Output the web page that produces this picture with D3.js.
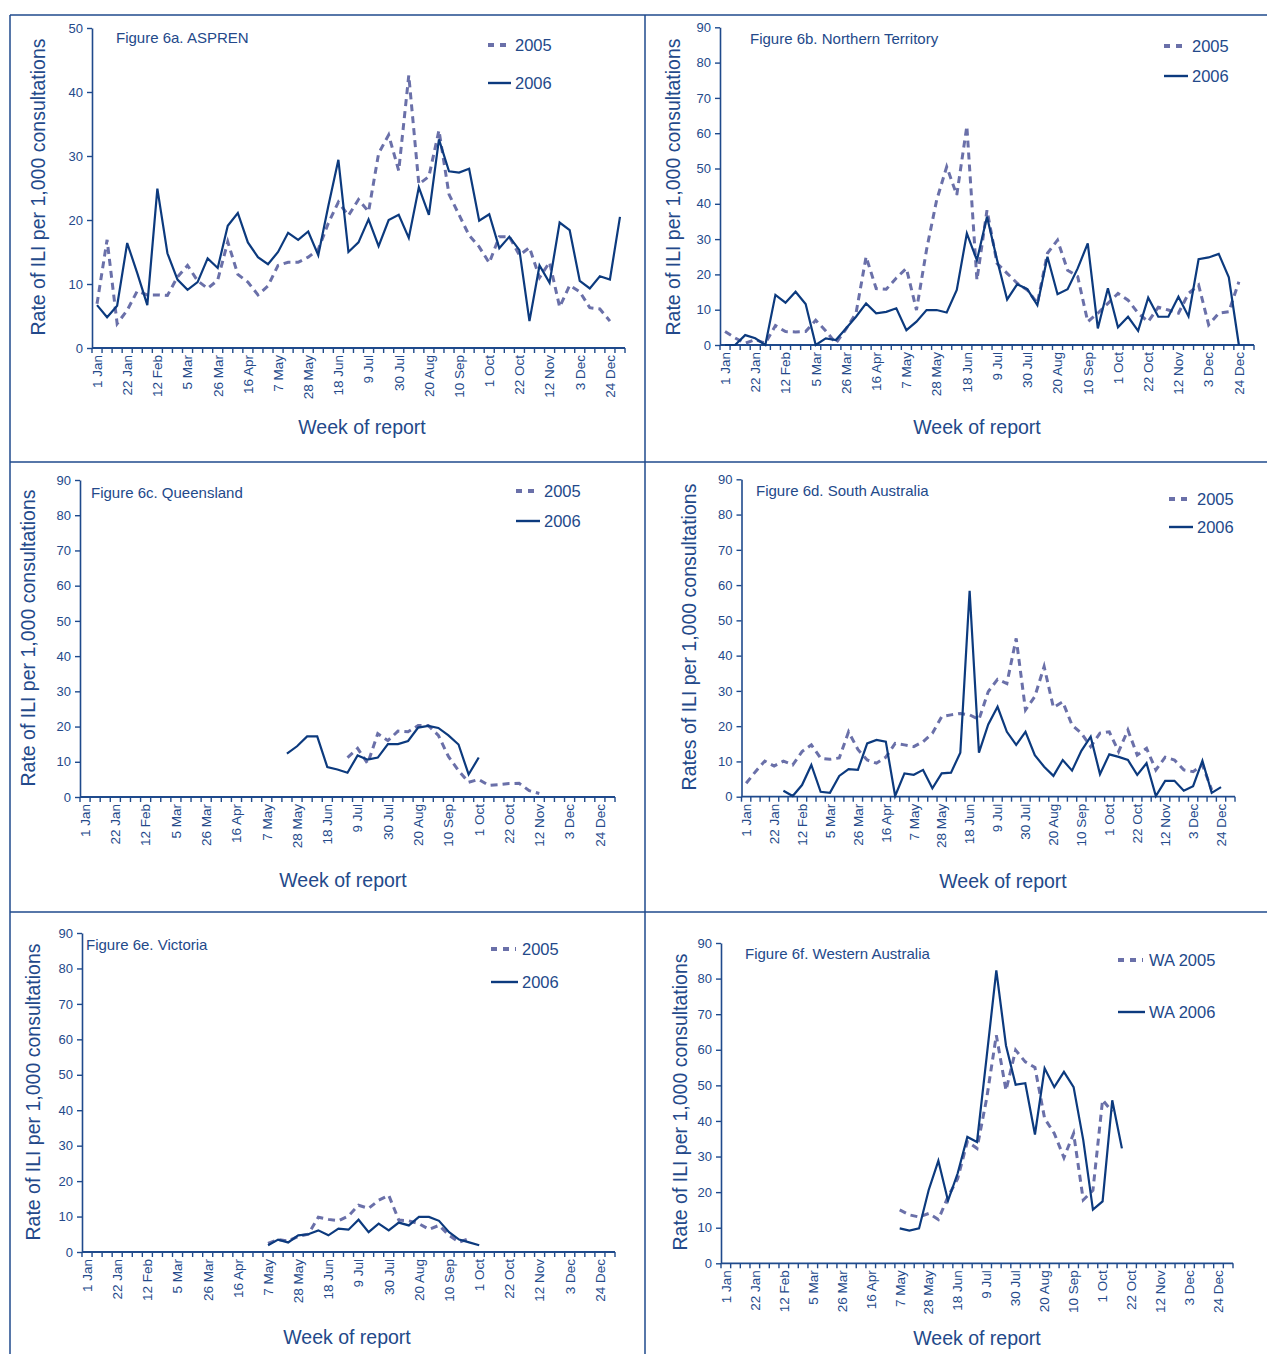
<!DOCTYPE html>
<html><head><meta charset="utf-8">
<script src="https://cdn.jsdelivr.net/npm/d3@7"></script>
<style>
body{margin:0;background:#fff}
svg{display:block}
text{font-family:"Liberation Sans",Arial,Helvetica,sans-serif}
</style>
</head><body>
<svg id="chart" width="1267" height="1354"></svg>
<script>
// ---------- DATA ----------
const weekCount = 53;
const tickLabels = ["1 Jan","22 Jan","12 Feb","5 Mar","26 Mar","16 Apr","7 May","28 May","18 Jun","9 Jul","30 Jul","20 Aug","10 Sep","1 Oct","22 Oct","12 Nov","3 Dec","24 Dec"];
const tickWeeks  = [0,3,6,9,12,15,18,21,24,27,30,33,36,39,42,45,48,51];

// Figure 6a ASPREN (start week index 0)
const aspren2005 = [6.9,16.9,3.8,5.9,8.9,8.3,8.3,8.2,11.1,12.9,10.5,9.3,10.6,16.6,11.5,10.3,8.3,9.7,12.9,13.4,13.4,14.2,15.4,19.5,22.8,20.7,23.2,21.3,30.4,33.3,27.7,42.6,25.6,26.8,34.0,24.0,20.8,17.6,15.8,13.3,17.4,17.4,14.5,15.7,11.0,13.4,6.4,9.8,8.8,6.3,6.1,4.2];
const aspren2006 = [6.7,4.8,6.6,16.4,11.7,6.7,24.9,14.8,10.7,9.1,10.3,14.0,12.5,19.1,21.1,16.5,14.2,13.1,15.0,18.0,16.9,18.2,14.5,22.2,29.4,15.0,16.5,20.1,15.9,20.0,20.8,17.2,25.1,20.8,32.6,27.6,27.4,28.0,19.9,20.9,15.6,17.4,15.3,4.2,12.9,10.2,19.6,18.4,10.5,9.3,11.2,10.7,20.5];

// Figure 6b Northern Territory (start 0)
const nt2005 = [3.8,2.0,0.5,1.5,0.5,5.5,3.8,3.7,3.8,7.0,4.0,0.5,4.5,9.0,25.0,16.0,15.8,19.0,21.7,9.9,27.0,41.0,50.5,42.5,62.0,18.4,38.2,23.1,20.3,17.5,15.6,11.8,26.0,29.7,21.2,19.4,6.6,9.0,11.8,14.6,12.7,9.0,6.6,10.7,9.9,9.0,14.6,17.0,5.7,9.0,9.4,17.9];
const nt2006 = [0,0,2.8,1.9,0,14.2,12.0,15.1,11.6,0,1.9,1.4,4.7,8.0,11.8,9.0,9.4,10.4,4.2,6.6,9.9,9.9,9.2,15.6,31.6,24.0,36.3,24.1,12.9,17.2,15.8,11.3,25.0,14.4,15.8,21.7,28.8,4.7,16.1,5.0,8.0,4.0,13.4,8.0,8.0,13.7,8.1,24.3,24.8,25.8,19.2,0];

// Figure 6c Queensland
const qld2005Start = 26;
const qld2005 = [11.2,13.8,9.5,18.0,16.0,18.7,18.5,20.3,20.3,17.5,11.5,7.5,4.2,5.0,3.3,3.5,3.8,3.9,1.8,1.0];
const qld2006Start = 20;
const qld2006 = [12.3,14.4,17.2,17.2,8.5,7.8,6.9,11.8,10.6,11.2,15.0,15.0,15.9,19.7,20.2,19.6,17.5,14.9,6.4,11.2];

// Figure 6d South Australia
const sa2005Start = 0;
const sa2005 = [3.8,7.1,10.1,8.7,10.1,9.0,12.8,14.7,10.9,10.6,11.0,18.4,13.4,10.4,9.5,11.2,15.1,14.7,14.2,15.6,18.0,22.7,23.2,23.6,23.2,21.9,29.8,33.3,32.1,44.9,24.6,28.4,36.9,25.3,26.9,20.3,18.0,14.2,18.0,18.4,12.8,18.9,11.8,13.7,7.6,11.2,10.4,7.6,7.1,9.0,1.9];
const sa2006Start = 4;
const sa2006 = [1.7,0.2,3.3,9.0,1.4,1.1,5.9,7.8,7.6,15.1,16.1,15.6,0.2,6.6,6.2,7.6,2.4,6.6,6.8,12.5,58.4,12.5,20.5,25.5,18.4,14.7,18.4,11.8,8.5,5.9,10.4,7.4,13.0,17.0,6.4,12.0,11.3,10.4,6.2,9.5,0.2,4.5,4.5,1.7,3.0,10.2,1.1,2.7];

// Figure 6e Victoria
const vic2005Start = 18;
const vic2005 = [2.4,3.5,3.1,4.4,5.0,9.8,9.2,8.8,10.2,13.2,12.3,14.6,16.0,9.0,8.8,8.0,6.4,7.5,4.7,2.8,3.8];
const vic2006Start = 18;
const vic2006 = [1.9,3.5,2.7,4.7,5.0,6.1,4.7,6.6,6.3,9.1,5.6,8.0,6.1,8.3,7.5,9.9,9.9,8.8,5.6,3.5,2.7,1.9];

// Figure 6f Western Australia
const wa2005Start = 18;
const wa2005 = [15.0,13.6,13.0,14.0,12.3,18.7,23.8,34.2,32.3,46.3,64.1,48.6,59.9,56.6,55.0,40.7,36.5,29.7,36.5,17.8,20.5,45.9,42.6];
const wa2006Start = 18;
const wa2006 = [9.8,9.2,9.8,20.6,28.8,17.6,25.3,35.5,34.1,58.0,82.3,61.2,50.2,50.6,36.2,54.8,49.5,53.8,49.5,34.6,15.1,17.4,45.8,32.3];

// ---------- STYLE ----------
const TEXT = "#23498a";
const AXIS = "#1f4a8c";
const SOLID = "#0c3a7e";
const DASH = "#6a70a9";

const svg = d3.select("#chart");

// panel frame lines
const frame = [
  [10,15,1267,15],[10,15,10,1354],[645,15,645,1354],
  [10,462,1267,462],[10,912,1267,912]
];
svg.selectAll("line.frame").data(frame).join("line")
  .attr("x1",d=>d[0]).attr("y1",d=>d[1]).attr("x2",d=>d[2]).attr("y2",d=>d[3])
  .attr("stroke",AXIS).attr("stroke-width",1.5);

const panels = [
  {title:"Figure 6a. ASPREN", ytitle:"Rate of ILI per 1,000 consultations", ymax:50,
   x0:92,x1:625,yTop:28,yBot:348, d05:aspren2005,s05:0,d06:aspren2006,s06:0,
   leg:["2005","2006"], legX:488, legLen:23, legY:[45,83], titleX:116,titleY:43, ytX:38, ytY:187, xtX:362, xtY:434},
  {title:"Figure 6b. Northern Territory", ytitle:"Rate of ILI per 1,000 consultations", ymax:90,
   x0:720,x1:1254,yTop:27.3,yBot:345, d05:nt2005,s05:0,d06:nt2006,s06:0,
   leg:["2005","2006"], legX:1164, legLen:24, legY:[46,76], titleX:750,titleY:44, ytX:673, ytY:187, xtX:977, xtY:434},
  {title:"Figure 6c. Queensland", ytitle:"Rate of ILI per 1,000 consultations", ymax:90,
   x0:80,x1:615,yTop:480,yBot:797, d05:qld2005,s05:qld2005Start,d06:qld2006,s06:qld2006Start,
   leg:["2005","2006"], legX:516, legLen:24, legY:[491,521], titleX:91,titleY:498, ytX:28, ytY:638, xtX:343, xtY:887},
  {title:"Figure 6d. South Australia", ytitle:"Rates of ILI per 1,000 consultations", ymax:90,
   x0:741.5,x1:1235,yTop:479.3,yBot:796.7, d05:sa2005,s05:sa2005Start,d06:sa2006,s06:sa2006Start,
   leg:["2005","2006"], legX:1169, legLen:24, legY:[499,527], titleX:756,titleY:496, ytX:689, ytY:637, xtX:1003, xtY:888},
  {title:"Figure 6e. Victoria", ytitle:"Rate of ILI per 1,000 consultations", ymax:90,
   x0:82,x1:615,yTop:933,yBot:1252, d05:vic2005,s05:vic2005Start,d06:vic2006,s06:vic2006Start,
   leg:["2005","2006"], legX:491, legLen:27, legY:[949,982], titleX:86,titleY:950, ytX:33, ytY:1092, xtX:347, xtY:1344},
  {title:"Figure 6f. Western Australia", ytitle:"Rate of ILI per 1,000 consultations", ymax:90,
   x0:721,x1:1233,yTop:943,yBot:1263.3, d05:wa2005,s05:wa2005Start,d06:wa2006,s06:wa2006Start,
   leg:["WA 2005","WA 2006"], legX:1118, legLen:27, legY:[960,1012], titleX:745,titleY:959, ytX:680, ytY:1102, xtX:977, xtY:1345}
];

panels.forEach(p => {
  const g = svg.append("g");
  const x = d3.scaleBand().domain(d3.range(weekCount)).range([p.x0,p.x1]);
  const y = d3.scaleLinear().domain([0,p.ymax]).range([p.yBot,p.yTop]);
  const cx = i => x(i) + x.bandwidth()/2;

  // y axis
  const ya = g.append("g").attr("transform",`translate(${p.x0},0)`)
    .call(d3.axisLeft(y).tickValues(d3.range(0,p.ymax+1,10)).tickSize(5).tickSizeOuter(0).tickPadding(4));
  ya.select(".domain").attr("stroke",AXIS).attr("stroke-width",1.6);
  ya.selectAll(".tick line").attr("stroke",AXIS).attr("stroke-width",1.4);
  ya.selectAll(".tick text").attr("fill",TEXT).style("font-size","13px").style("font-family",'"Liberation Sans",Arial,sans-serif');

  // x axis line + ticks at category boundaries
  g.append("line").attr("x1",p.x0).attr("x2",p.x1).attr("y1",p.yBot).attr("y2",p.yBot)
    .attr("stroke",AXIS).attr("stroke-width",1.8);
  g.selectAll("line.xt").data(d3.range(weekCount+1)).join("line")
    .attr("x1",i=> i<weekCount ? x(i) : p.x1).attr("x2",i=> i<weekCount ? x(i) : p.x1)
    .attr("y1",p.yBot).attr("y2",p.yBot+5)
    .attr("stroke",AXIS).attr("stroke-width",1.4);
  g.selectAll("text.xl").data(tickWeeks).join("text")
    .attr("transform",(w)=>`translate(${cx(w)+4.8},${p.yBot+7}) rotate(-90)`)
    .attr("text-anchor","end").attr("fill",TEXT).style("font-size","13.5px")
    .text((w,i)=>tickLabels[i]);

  // titles
  g.append("text").attr("transform",`translate(${p.ytX+6.5},${p.ytY}) rotate(-90)`)
    .attr("text-anchor","middle").attr("fill",TEXT).style("font-size","19.5px").text(p.ytitle);
  g.append("text").attr("x",p.xtX).attr("y",p.xtY).attr("text-anchor","middle")
    .attr("fill",TEXT).style("font-size","19.5px").text("Week of report");
  g.append("text").attr("x",p.titleX).attr("y",p.titleY).attr("fill",TEXT)
    .style("font-size","15px").text(p.title);

  // series
  const mk = (arr,start) => arr.map((v,k)=>({w:start+k,v}));
  const line = d3.line().x(d=>cx(d.w)).y(d=>y(d.v));
  g.append("path").datum(mk(p.d05,p.s05)).attr("d",line)
    .attr("fill","none").attr("stroke",DASH).attr("stroke-width",3).attr("stroke-dasharray","7,5");
  g.append("path").datum(mk(p.d06,p.s06)).attr("d",line)
    .attr("fill","none").attr("stroke",SOLID).attr("stroke-width",2.2).attr("stroke-linejoin","miter");

  // legend
  g.append("line").attr("x1",p.legX).attr("x2",p.legX+p.legLen-2).attr("y1",p.legY[0]).attr("y2",p.legY[0])
    .attr("stroke",DASH).attr("stroke-width",4).attr("stroke-dasharray","6,6");
  g.append("line").attr("x1",p.legX).attr("x2",p.legX+p.legLen).attr("y1",p.legY[1]).attr("y2",p.legY[1])
    .attr("stroke",SOLID).attr("stroke-width",2.4);
  g.append("text").attr("x",p.legX+p.legLen+4).attr("y",p.legY[0]+6).attr("fill",TEXT)
    .style("font-size","16.5px").text(p.leg[0]);
  g.append("text").attr("x",p.legX+p.legLen+4).attr("y",p.legY[1]+6).attr("fill",TEXT)
    .style("font-size","16.5px").text(p.leg[1]);
});
</script>
</body></html>
